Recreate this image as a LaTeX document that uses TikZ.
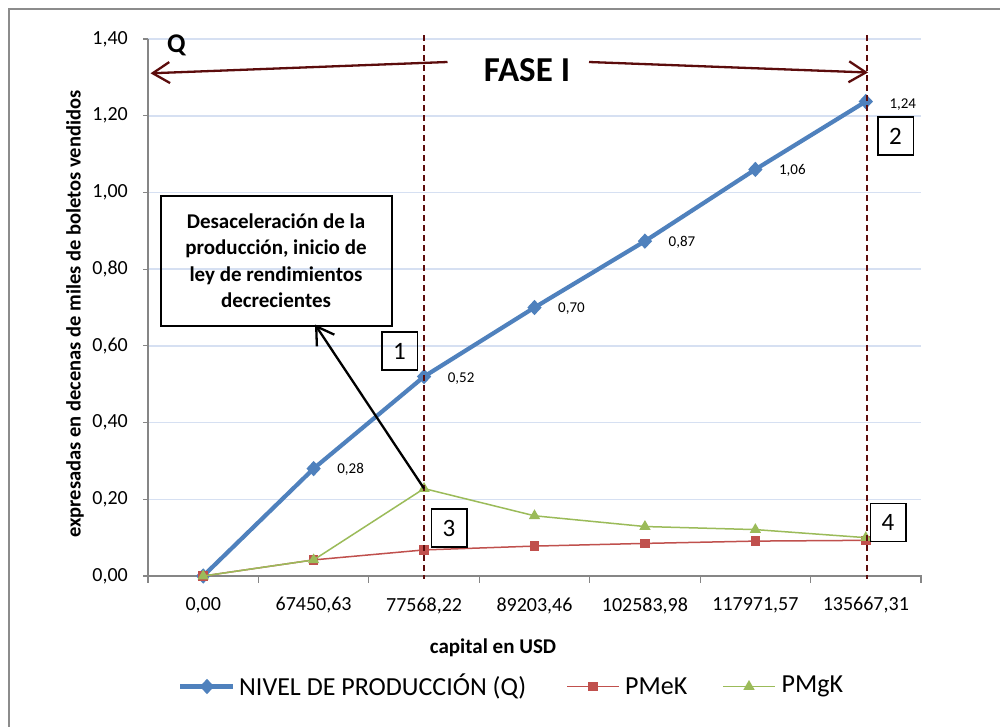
\documentclass[tikz,border=0pt]{standalone}
\usepackage{fontspec}
\setmainfont{Carlito}
\usetikzlibrary{shapes.geometric,arrows.meta,calc}
\definecolor{qblue}{RGB}{79,129,189}
\definecolor{mered}{RGB}{192,80,77}
\definecolor{mggreen}{RGB}{155,187,89}
\definecolor{gridc}{RGB}{214,224,242}
\definecolor{axisc}{RGB}{134,134,134}
\definecolor{darkmaroon}{RGB}{92,12,12}
\definecolor{framec}{RGB}{140,140,140}
\newcommand{\fs}[1]{\fontsize{#1}{#1}\selectfont}
\begin{document}
\begin{tikzpicture}[x=1pt,y=-1pt,
  gridline/.style={gridc,line width=1.6pt},
  axisline/.style={axisc,line width=1.1pt},
  qline/.style={qblue,line width=4.2pt,line join=round},
  meline/.style={mered,line width=1.5pt},
  mgline/.style={mggreen,line width=1.5pt},
  qmark/.style={diamond,fill=qblue,inner sep=0pt,minimum width=14.5pt,minimum height=15.5pt},
  memark/.style={rectangle,fill=mered,inner sep=0pt,minimum size=9.5pt},
  mgmark/.style={regular polygon,regular polygon sides=3,fill=mggreen,inner sep=0pt,minimum size=13pt},
  ticklab/.style={font=\fs{20},inner sep=0pt},
  datalab/.style={font=\fs{15},inner sep=0pt},
  phase/.style={darkmaroon,line width=2pt,dash pattern=on 6pt off 4pt},
  phasearrow/.style={darkmaroon,line width=2.3pt,-{Straight Barb[length=17pt,width=21pt,line width=2.3pt]}},
  numbox/.style={draw,line width=1.5pt,minimum width=35.5pt,minimum height=38pt,inner sep=0pt,font=\fs{25}},
  legtext/.style={font=\fs{26},anchor=west,inner sep=0pt}
]
\useasboundingbox (0,0) rectangle (1000,726);
\clip (0,0) rectangle (1000,726);
\fill[white] (0,0) rectangle (1000,726);
% chart frame
\draw[framec,line width=1.5pt] (9,9) rectangle (1010,740);

% horizontal gridlines
\foreach \k in {1,...,7}
  \draw[gridline] (148,{576-\k*76.71}) -- (921,{576-\k*76.71});

% axes
\draw[axisline] (148,{576-7*76.71}) -- (148,576) -- (921.5,576);
\foreach \k in {0,...,7}
  \draw[axisline] (143,{576-\k*76.71}) -- (148,{576-\k*76.71});
\foreach \k in {0,...,7}
  \draw[axisline] ({148+110.43*\k},576) -- ({148+110.43*\k},583);

% y tick labels
\node[ticklab,anchor=east] (y0) at (128,576) {0,00};
\node[ticklab,anchor=east] (y1) at (128,499.3) {0,20};
\node[ticklab,anchor=east] (y2) at (128,422.6) {0,40};
\node[ticklab,anchor=east] (y3) at (128,345.9) {0,60};
\node[ticklab,anchor=east] (y4) at (128,269.2) {0,80};
\node[ticklab,anchor=east] (y5) at (128,192.5) {1,00};
\node[ticklab,anchor=east] (y6) at (128,115.7) {1,20};
\node[ticklab,anchor=east] (y7) at (128,39) {1,40};

% x tick labels
\node[ticklab] (x0) at (203.2,605.5) {0,00};
\node[ticklab] (x1) at (313.6,605.5) {67450,63};
\node[ticklab] (x2) at (424.1,605.5) {77568,22};
\node[ticklab] (x3) at (534.5,605.5) {89203,46};
\node[ticklab] (x4) at (644.9,605.5) {102583,98};
\node[ticklab] (x5) at (755.4,605.5) {117971,57};
\node[ticklab] (x6) at (865.8,605.5) {135667,31};

% axis titles
\node[font=\bfseries\fs{21},inner sep=0pt] (xtitle) at (493,648) {capital en USD};
\node[font=\bfseries\fs{20.5},inner sep=0pt,rotate=90] (ytitle) at (75,314) {expresadas en decenas de miles de boletos vendidos};

% series: production level
\foreach \v [count=\i from 0] in {0,0.28,0.52,0.70,0.873,1.06,1.237}
  \coordinate (cq\i) at ({203.2+110.43*\i},{576-\v*383.57});
\draw[qline] (cq0) -- (cq1) -- (cq2) -- (cq3) -- (cq4) -- (cq5) -- (cq6);
\foreach \i in {0,...,6} \node[qmark] (q\i) at (cq\i) {};

% series: average product of capital
\foreach \v [count=\i from 0] in {0,0.042,0.068,0.078,0.085,0.091,0.093}
  \coordinate (cm\i) at ({203.2+110.43*\i},{576-\v*383.57});
\draw[meline] (cm0) -- (cm1) -- (cm2) -- (cm3) -- (cm4) -- (cm5) -- (cm6);
\foreach \i in {0,...,6} \node[memark] (m\i) at (cm\i) {};

% series: marginal product of capital
\foreach \v [count=\i from 0] in {0,0.042,0.228,0.157,0.129,0.121,0.100}
  \coordinate (cg\i) at ({203.2+110.43*\i},{576-\v*383.57});
\draw[mgline] (cg0) -- (cg1) -- (cg2) -- (cg3) -- (cg4) -- (cg5) -- (cg6);
\foreach \i in {0,...,6} \node[mgmark] (g\i) at (cg\i) {};

% data labels
\node[datalab] (l1) at ($(q1)+(37,1)$) {0,28};
\node[datalab] (l2) at ($(q2)+(37,2)$) {0,52};
\node[datalab] (l3) at ($(q3)+(37,1)$) {0,70};
\node[datalab] (l4) at ($(q4)+(37,1)$) {0,87};
\node[datalab] (l5) at ($(q5)+(37,1)$) {1,06};
\node[datalab] (l6) at ($(q6)+(37,3)$) {1,24};

% phase boundaries
\coordinate (ph1t) at (424.1,35);
\coordinate (ph1b) at (424.1,579);
\coordinate (ph2t) at (866.8,35);
\coordinate (ph2b) at (866.8,579);
\draw[phase] (ph1t) -- (ph1b);
\draw[phase] (ph2t) -- (ph2b);

% phase label and span arrows
\node[font=\bfseries\fs{35},inner sep=0pt] (fase) at (527,70) {FASE I};
\node[font=\bfseries\fs{27},inner sep=0pt] (qlab) at (176.5,45) {Q};
\coordinate (al0) at (447.5,62);
\coordinate (al1) at (150.5,73.3);
\coordinate (ar0) at (589,62);
\coordinate (ar1) at (868,72.5);
\draw[phasearrow] (al0) -- (al1);
\draw[phasearrow] (ar0) -- (ar1);

% annotation box
\node[draw,line width=2pt,minimum width=231pt,minimum height=129.5pt,inner sep=0pt,
      align=center,font=\bfseries\fontsize{21}{26.5}\selectfont] (note) at (276,260.75)
  {Desaceleración de la\\producción, inicio de\\ley de rendimientos\\decrecientes};
\draw[line width=2.3pt,-{Straight Barb[length=17pt,width=21pt,line width=2.3pt]}]
  (g2.center) -- ($(note.south)+(39,-2)$);

% numbered markers
\node[numbox] (n1) at (399.5,351) {1};
\node[numbox] (n2) at (895.5,136) {2};
\node[numbox] (n3) at (449,528) {3};
\node[numbox] (n4) at (888,522.5) {4};

% legend
\coordinate (lq0) at (180,686.5);
\coordinate (lq1) at (233,686.5);
\draw[qline] (lq0) -- (lq1);
\node[qmark] (lqm) at (207,686.5) {};
\node[legtext] (lqt) at (239,686.5) {NIVEL DE PRODUCCIÓN (Q)};
\coordinate (lm0) at (567,686.5);
\coordinate (lm1) at (619,686.5);
\draw[meline] (lm0) -- (lm1);
\node[memark] (lmm) at (593,686.5) {};
\node[legtext] (lmt) at (625,686.5) {PMeK};
\coordinate (lg0) at (723,686.5);
\coordinate (lg1) at (775,686.5);
\draw[mgline] (lg0) -- (lg1);
\node[mgmark] (lgm) at (749,686.5) {};
\node[legtext] (lgt) at (781.5,686.5) {PMgK};
\end{tikzpicture}
\end{document}
